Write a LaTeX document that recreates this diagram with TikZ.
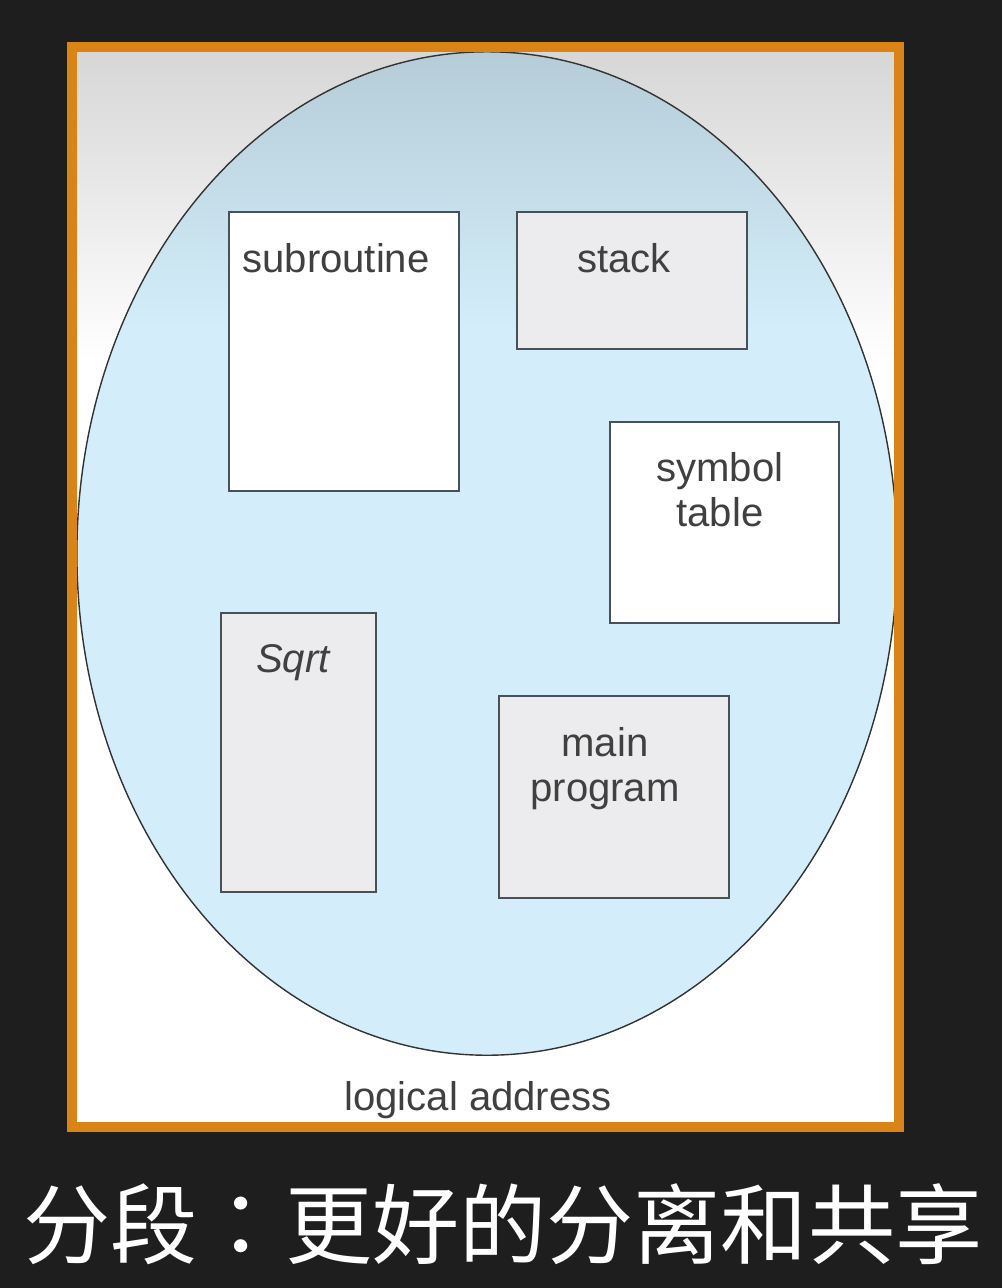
\documentclass[tikz,border=0pt]{standalone}
\usepackage{fontspec}
\setmainfont{Liberation Sans}
\newfontfamily\cjk{Noto Sans CJK SC}
\newfontfamily\cjkpunct{Noto Sans CJK TC}
\usetikzlibrary{shapes,calc,positioning}

\definecolor{boardBg}{HTML}{1E1E1E}
\definecolor{frameOrange}{HTML}{D98414}
\definecolor{paperTop}{HTML}{D6D6D6}
\definecolor{spaceBlue}{HTML}{D3EEFA}
\definecolor{spaceBlueTop}{HTML}{B4CBD6}
\definecolor{segGray}{HTML}{ECECEE}
\definecolor{segEdge}{HTML}{4A5058}
\definecolor{inkGray}{HTML}{404040}

\begin{document}
\begin{tikzpicture}[x=0.025cm, y=-0.025cm,
  seg/.style={draw=segEdge, line width=1.5pt, rectangle, inner sep=0pt},
  segText/.style={text=inkGray, align=center, font=\fontsize{28.5}{32}\selectfont}]
  \useasboundingbox[fill=boardBg] (0,0) rectangle (1002,1288);

  % paper
  \fill[white] (72,47) rectangle (899,1127);
  \shade[top color=paperTop, bottom color=white] (72,47) rectangle (899,360);

  % logical address space
  \fill[spaceBlue] (487,553.5) ellipse [x radius=10.25cm, y radius=12.54cm];
  \begin{scope}
    \clip (487,553.5) ellipse [x radius=10.25cm, y radius=12.54cm];
    \shade[top color=spaceBlueTop, bottom color=spaceBlue] (60,40) rectangle (910,330);
  \end{scope}
  \draw[black!80, line width=1pt] (487,553.5) ellipse [x radius=10.25cm, y radius=12.54cm];

  \draw[frameOrange, line width=7pt] (72,47) rectangle (899,1127);

  % segments
  \node[seg, fill=white, minimum width=5.75cm, minimum height=6.975cm] (subroutineNode) at (344,351.5) {};
  \node[seg, fill=segGray, minimum width=5.75cm, minimum height=3.425cm] (stackNode) at (632,280.5) {};
  \node[seg, fill=white, minimum width=5.725cm, minimum height=5.025cm] (symbolNode) at (724.5,522.5) {};
  \node[seg, fill=segGray, minimum width=3.875cm, minimum height=6.975cm] (sqrtNode) at (298.5,752.5) {};
  \node[seg, fill=segGray, minimum width=5.75cm, minimum height=5.05cm] (mainNode) at (614,797) {};

  \node[segText] (subroutineText) at (336,258) {subroutine};
  \node[segText] (stackText) at (624,258) {stack};
  \node[segText] (symbolText) at (720,490) {symbol\\table};
  \node[segText, font=\fontsize{28.5}{32}\selectfont\itshape] (sqrtText) at (293,663) {Sqrt};
  \node[segText] (mainText) at (605,769) {main\\program};

  \node[segText] (logicalText) at (478,1100) {logical address};

  \node[text=white, font=\cjk\fontsize{62}{62}\selectfont] (titleNode) at (503,1224) {分段{\cjkpunct ：}更好的分离和共享};
\end{tikzpicture}
\end{document}
